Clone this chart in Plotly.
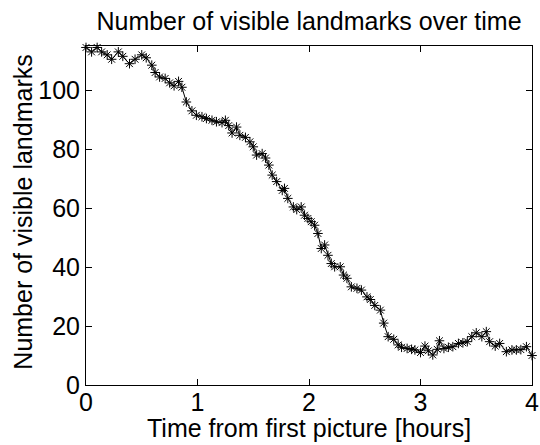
import plotly.graph_objects as go

# Elapsed time since the first picture [hours]
time_hours = [
    0.00, 0.05, 0.10, 0.14, 0.19, 0.23, 0.29, 0.33, 0.39, 0.44,
    0.50, 0.54, 0.59, 0.62, 0.66, 0.71, 0.75, 0.79, 0.83, 0.86,
    0.90, 0.95, 0.99, 1.04, 1.08, 1.13, 1.17, 1.22, 1.25, 1.28,
    1.31, 1.35, 1.38, 1.43, 1.47, 1.50, 1.53, 1.58, 1.61, 1.64,
    1.67, 1.71, 1.76, 1.78, 1.81, 1.86, 1.89, 1.93, 1.96, 1.99,
    2.02, 2.05, 2.08, 2.11, 2.14, 2.17, 2.20, 2.23, 2.28, 2.31,
    2.34, 2.38, 2.43, 2.47, 2.52, 2.55, 2.59, 2.64, 2.67, 2.71,
    2.76, 2.80, 2.83, 2.88, 2.92, 2.95, 3.00, 3.04, 3.07, 3.11,
    3.15, 3.17, 3.21, 3.25, 3.29, 3.34, 3.38, 3.42, 3.46, 3.50,
    3.55, 3.59, 3.62, 3.67, 3.71, 3.77, 3.82, 3.86, 3.90, 3.95,
    4.00,
]

# Number of landmarks visible in each picture
visible_landmarks = [
    114.5, 113, 114.5, 113, 112, 110.5, 113, 111.5, 109, 110.5,
    112, 111, 108.5, 106, 104.5, 104, 102.5, 101.5, 103, 101,
    96, 93, 91.5, 91, 90.4, 89.8, 89.3, 89, 89.8, 88,
    85.5, 87.5, 84.7, 84, 82.5, 80.8, 78, 78.5, 77, 74.6,
    71.2, 69, 66, 66.7, 63.3, 60.4, 59.5, 60.4, 57.6, 56.5,
    55.4, 54.2, 51.4, 46.3, 47.5, 44, 41.2, 40.1, 40.1, 37.3,
    36.2, 33.3, 32.8, 32.2, 29.9, 29, 27, 25.4, 21, 16.4,
    15.5, 13.6, 12.8, 12.4, 12.1, 11.9, 11, 13.2, 11.6, 10.2,
    12.1, 15, 12.4, 12.8, 13, 14.1, 14.3, 14.7, 16.4, 17.7,
    16.4, 18.1, 14.7, 13.2, 14.1, 11.3, 11.9, 11.9, 12, 13,
    10,
]

x_ticks = [0, 1, 2, 3, 4]
y_ticks = [0, 20, 40, 60, 80, 100]

FONT = "Liberation Sans, Arial, Helvetica, sans-serif"
FS = 25

fig = go.Figure(
    go.Scatter(
        x=time_hours,
        y=visible_landmarks,
        mode="lines+markers",
        line=dict(color="black", width=1),
        marker=dict(symbol="asterisk-open", size=8,
                    line=dict(color="black", width=1), color="black"),
        cliponaxis=False,
        showlegend=False,
    )
)

axis_common = dict(
    showline=True,
    linecolor="black",
    linewidth=1,
    mirror="ticks",
    ticks="inside",
    ticklen=6,
    tickwidth=1,
    tickcolor="black",
    showgrid=False,
    zeroline=False,
    tickfont=dict(family=FONT, size=FS, color="black"),
)

fig.update_xaxes(range=[0, 4], tickvals=x_ticks, ticklabelstandoff=-5,
                 **axis_common)
fig.update_yaxes(range=[0, 115], tickvals=y_ticks, **axis_common)

fig.update_layout(
    width=540,
    height=445,
    margin=dict(l=86, r=8, t=46, b=60, autoexpand=False),
    paper_bgcolor="white",
    plot_bgcolor="white",
    title=dict(
        text="Number of visible landmarks over time",
        font=dict(family=FONT, size=FS, color="black"),
        x=0.5, xref="paper", xanchor="center",
        y=0.952, yref="container", yanchor="middle",
    ),
    annotations=[
        dict(text="Time from first picture [hours]",
             xref="paper", yref="paper", x=0.5, y=-0.128,
             xanchor="center", yanchor="middle", showarrow=False,
             font=dict(family=FONT, size=FS, color="black")),
        dict(text="Number of visible landmarks",
             xref="paper", yref="paper", x=-0.14, y=0.51,
             xanchor="center", yanchor="middle", textangle=-90,
             showarrow=False,
             font=dict(family=FONT, size=FS, color="black")),
    ],
)

fig.write_html("out.html")
